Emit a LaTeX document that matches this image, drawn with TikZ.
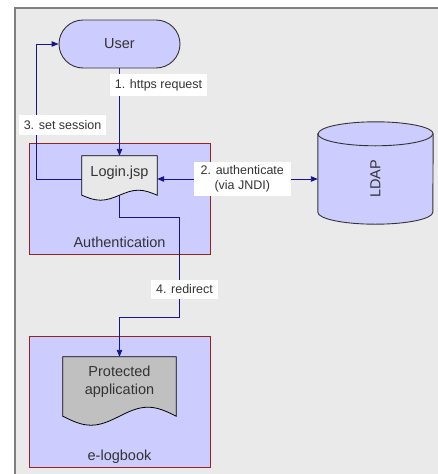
\documentclass[tikz,border=0pt]{standalone}
\usepackage{fontspec}
\setmainfont{Liberation Sans}
\usetikzlibrary{arrows.meta,calc}

\definecolor{panel}{HTML}{EAEAEA}
\definecolor{frameline}{HTML}{7F7F7F}
\definecolor{lilac}{HTML}{CCCCFF}
\definecolor{zoneline}{HTML}{9A2222}
\definecolor{ink}{HTML}{333333}
\definecolor{flow}{HTML}{14148C}
\definecolor{paper}{HTML}{E8E8E8}
\definecolor{appgray}{HTML}{C0C0C0}

\pgfdeclarelayer{back}
\pgfdeclarelayer{docs}
\pgfsetlayers{back,docs,main}

\begin{document}
\begin{tikzpicture}[x=1pt,y=-1pt,
  >={Triangle[length=7pt,width=5.5pt]},
  mainfont/.style={font=\fontsize{14.5}{17.6}\selectfont, text=ink},
  lbl/.style={fill=white, font=\fontsize{12.5}{15}\selectfont, text=ink,
    inner xsep=5pt, inner ysep=5pt},
  zone/.style={draw=zoneline, line width=0.8pt, fill=lilac,
    minimum width=181pt, inner sep=0pt},
  zonetitle/.style={mainfont, anchor=base, yshift=7.4pt},
  docslot/.style={mainfont, inner sep=0pt},
  docline/.style={draw=black, line width=0.8pt},
  conn/.style={draw=flow, line width=0.9pt, ->},
]
\useasboundingbox (0,0) rectangle (437,474);

\begin{pgfonlayer}{back}
  % panel with its frame
  \fill[panel] (14,8) rectangle (442,480);
  \draw[frameline, line width=1.5pt] (15,480) -- (15,8) -- (442,8);
  % zones
  \node[zone, minimum height=111pt,
    label={[zonetitle]south:Authentication}] (auth) at (119.5,198.5) {};
  \node[zone, minimum height=131pt,
    label={[zonetitle]south:e-logbook}] (elog) at (119.5,401.5) {};
\end{pgfonlayer}

% user terminal
\node[draw=ink, line width=0.9pt, fill=lilac, rounded corners=24pt,
  minimum width=121pt, minimum height=48pt, mainfont] (user) at (119.5,44) {User};

% document slots (shapes drawn on the docs layer)
\node[docslot, minimum width=75pt, minimum height=34pt] (login) at (119.5,173) {Login.jsp};
\node[docslot, minimum width=113pt, minimum height=50pt, align=center] (app)
  at (119.5,382) {Protected\\application};
\node[mainfont, inner sep=0pt, minimum width=115pt, minimum height=90pt] (ldap)
  at (375.5,179) {\rotatebox{90}{LDAP}};

\begin{pgfonlayer}{docs}
  % Login.jsp document
  \draw[docline, fill=paper] (login.north west) -- (login.north east)
    -- ($(login.south east)+(0,5)$)
    sin ($(login.south east)+(-18.75,0)$)
    cos ($(login.south)+(0,5)$)
    sin ($(login.south west)+(18.75,10)$)
    cos ($(login.south west)+(0,5)$) -- cycle;
  % protected application document
  \draw[docline, fill=appgray] (app.north west) -- (app.north east)
    -- ($(app.south east)+(0,9)$)
    sin ($(app.south east)+(-28.25,0)$)
    cos ($(app.south)+(0,9)$)
    sin ($(app.south west)+(28.25,18)$)
    cos ($(app.south west)+(0,9)$) -- cycle;
  % LDAP store
  \draw[draw=ink, line width=0.9pt, fill=lilac] (ldap.north west)
    -- ($(ldap.south west)+(0,-12)$)
    arc[start angle=180, end angle=360, x radius=57.5pt, y radius=12pt]
    -- (ldap.north east)
    arc[start angle=0, end angle=180, x radius=57.5pt, y radius=12pt] -- cycle;
  \draw[draw=ink, line width=0.9pt] (ldap.north west)
    arc[start angle=180, end angle=360, x radius=57.5pt, y radius=12pt];
\end{pgfonlayer}

% flows
\draw[conn] (user.south) -- node[lbl, pos=0.19, xshift=39pt] {1. https request} (login.north);
\draw[conn, <->] ([yshift=-6pt]login.east) --
  node[lbl, pos=0.53, align=center, inner xsep=7pt, inner ysep=4pt]
  {2. authenticate\\(via JNDI)} (ldap.west);
\draw[conn] ([yshift=-6pt]login.west) -|
  node[lbl, pos=0.7, xshift=26pt] {3. set session}
  ($(user.west)+(-22,0)$) -- (user.west);
\draw[conn] ($(login.south)+(0,5)$) -- ++(0,22) -|
  node[lbl, pos=0.86, xshift=5pt] {4. redirect}
  ++(60,100) -| (app.north);
\end{tikzpicture}
\end{document}
